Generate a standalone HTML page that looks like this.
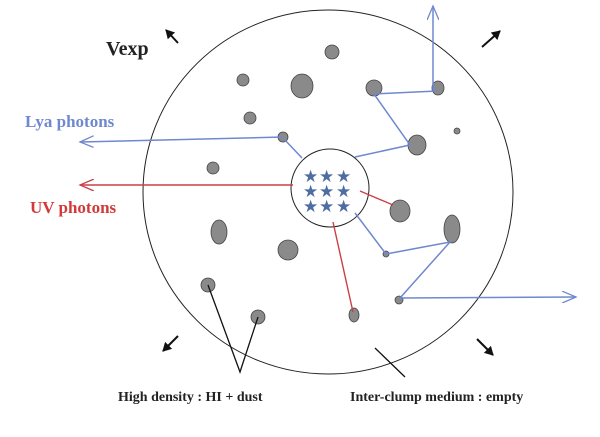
<!DOCTYPE html>
<html><head><style>html,body{margin:0;padding:0;background:#fff}</style></head><body>
<svg width="600" height="437" xmlns="http://www.w3.org/2000/svg" style="display:block">
<defs>
<marker id="ob" markerWidth="16" markerHeight="12" refX="14" refY="6" orient="auto" markerUnits="userSpaceOnUse"><path d="M0,0 L14,6 L0,12" fill="none" stroke="#6f88cf" stroke-width="1.3"/></marker>
<marker id="or" markerWidth="16" markerHeight="12" refX="14" refY="6" orient="auto" markerUnits="userSpaceOnUse"><path d="M0,0 L14,6 L0,12" fill="none" stroke="#c8404a" stroke-width="1.3"/></marker>
<marker id="fk" markerWidth="10" markerHeight="10" refX="8" refY="5" orient="auto" markerUnits="userSpaceOnUse"><path d="M0,0 L9,5 L0,10 Z" fill="#111"/></marker>
</defs>
<ellipse cx="328" cy="192" rx="185" ry="182" fill="none" stroke="#222" stroke-width="1"/>
<circle cx="330" cy="188" r="39" fill="none" stroke="#222" stroke-width="1"/>
<g fill="#8a8a8a" stroke="#444" stroke-width="0.8">
<circle cx="243" cy="80" r="6"/><ellipse cx="302" cy="86" rx="11" ry="12"/><circle cx="332" cy="52" r="7"/>
<circle cx="374" cy="88" r="8"/><ellipse cx="438" cy="88" rx="6" ry="7"/><ellipse cx="417" cy="145" rx="9" ry="10"/>
<circle cx="457" cy="131" r="3"/><circle cx="250" cy="118" r="6"/><circle cx="283" cy="137" r="5"/>
<circle cx="213" cy="168" r="6"/><ellipse cx="400" cy="211" rx="10" ry="11"/><ellipse cx="452" cy="229" rx="8" ry="14"/>
<ellipse cx="219" cy="232" rx="8" ry="12"/><circle cx="288" cy="250" r="10"/><circle cx="208" cy="285" r="7"/>
<circle cx="258" cy="317" r="7"/><ellipse cx="354" cy="315" rx="5" ry="7"/><circle cx="386" cy="254" r="3"/><circle cx="399" cy="300" r="4"/>
</g>
<g fill="none" stroke="#6f88cf" stroke-width="1.5">
<path d="M433,90 L433,6" marker-end="url(#ob)"/>
<path d="M437,91 L374,94 L410,145 L355,157"/>
<path d="M283,137 L80,142" marker-end="url(#ob)"/>
<path d="M284,139 L302,158"/>
<path d="M355,213 L386,254 L450,242 L400,298 L576,297" marker-end="url(#ob)"/>
</g>
<path d="M293,185 L80,185" stroke="#c8404a" stroke-width="1.6" fill="none" marker-end="url(#or)"/>
<path d="M360,191 L393,205 M333,222 L353,312" stroke="#c8404a" stroke-width="1.4" fill="none"/>
<g fill="#4d6da3" font-family="DejaVu Sans,sans-serif" font-size="17">
<text x="303" y="182">★</text><text x="319" y="182">★</text><text x="336" y="182">★</text>
<text x="303" y="197">★</text><text x="319" y="197">★</text><text x="336" y="197">★</text>
<text x="303" y="212">★</text><text x="319" y="212">★</text><text x="336" y="212">★</text>
</g>
<g stroke="#111" stroke-width="2" fill="none">
<path d="M178,43 L166,30" marker-end="url(#fk)"/>
<path d="M482,47 L500,31" marker-end="url(#fk)"/>
<path d="M178,336 L163,351" marker-end="url(#fk)"/>
<path d="M477,339 L493,355" marker-end="url(#fk)"/>
</g>
<path d="M208,285 L240,372 L258,317 M375,348 L405,377" stroke="#111" stroke-width="1.3" fill="none"/>
<g font-family="Liberation Serif,serif" font-weight="bold">
<text x="106" y="55" font-size="20" fill="#222">Vexp</text>
<text x="25" y="127" font-size="17" fill="#6f88cf">Lya photons</text>
<text x="30" y="213" font-size="17" fill="#d23a3a">UV photons</text>
<text x="118" y="401" font-size="14" fill="#222">High density : HI + dust</text>
<text x="350" y="401" font-size="14" fill="#222">Inter-clump medium : empty</text>
</g>
</svg>
</body></html>
